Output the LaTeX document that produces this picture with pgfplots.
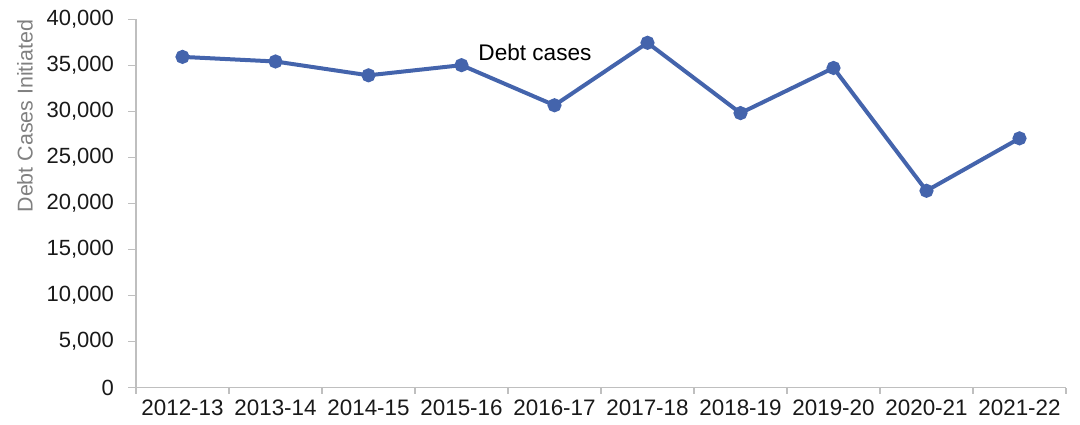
\documentclass[border=0pt]{standalone}
\usepackage{fontspec}
\setmainfont{Liberation Sans}
\usepackage{pgfplots}
\pgfplotsset{compat=1.18}
\definecolor{lineblue}{RGB}{68,100,172}
\definecolor{axisgrey}{RGB}{191,191,191}
\definecolor{labelgrey}{RGB}{128,128,128}
\begin{document}
\begin{tikzpicture}
\useasboundingbox (0pt,0pt) rectangle (540pt,212pt);
\begin{axis}[
  at={(68pt,18.15pt)}, anchor=south west,
  scale only axis,
  width=465pt, height=184.3pt,
  xmin=-0.5, xmax=9.5,
  ymin=0, ymax=40000,
  axis lines*=left,
  axis line style={color=axisgrey, line width=0.6pt},
  tick style={color=axisgrey, line width=0.6pt},
  tick align=outside,
  xtick={0,...,9},
  xticklabels={2012-13,2013-14,2014-15,2015-16,2016-17,2017-18,2018-19,2019-20,2020-21,2021-22},
  major x tick style={draw=none},
  minor xtick={-0.5,0.5,...,9.5},
  minor tick length=3pt,
  ytick={0,5000,...,40000},
  major tick length=4pt,
  scaled y ticks=false,
  /pgf/number format/.cd, 1000 sep={,}, assume math mode=true,
  /pgfplots/.cd,
  tick label style={font=\fontsize{11}{13}\selectfont, color=black!90},
  xticklabel style={font=\fontsize{11.2}{13}\selectfont, yshift=1.5pt},
  yticklabel style={xshift=-3.5pt},
  ylabel={Debt Cases Initiated},
  every axis y label/.style={at={(axis description cs:-0.1194,0.737)}, rotate=90, anchor=center, font=\fontsize{10.7}{12}\selectfont, color=labelgrey},
  clip=false,
]
\addplot[color=lineblue, line width=2pt, mark=*, mark size=2.5pt, mark options={fill=lineblue, draw=lineblue}]
coordinates {
(0,35900) (1,35400) (2,33900) (3,35000) (4,30650)
(5,37430) (6,29800) (7,34700) (8,21370) (9,27060)
};
\node[font=\fontsize{11.3}{13}\selectfont, anchor=center] at (axis cs:3.79,36400) {Debt cases};
\end{axis}
\end{tikzpicture}
\end{document}
